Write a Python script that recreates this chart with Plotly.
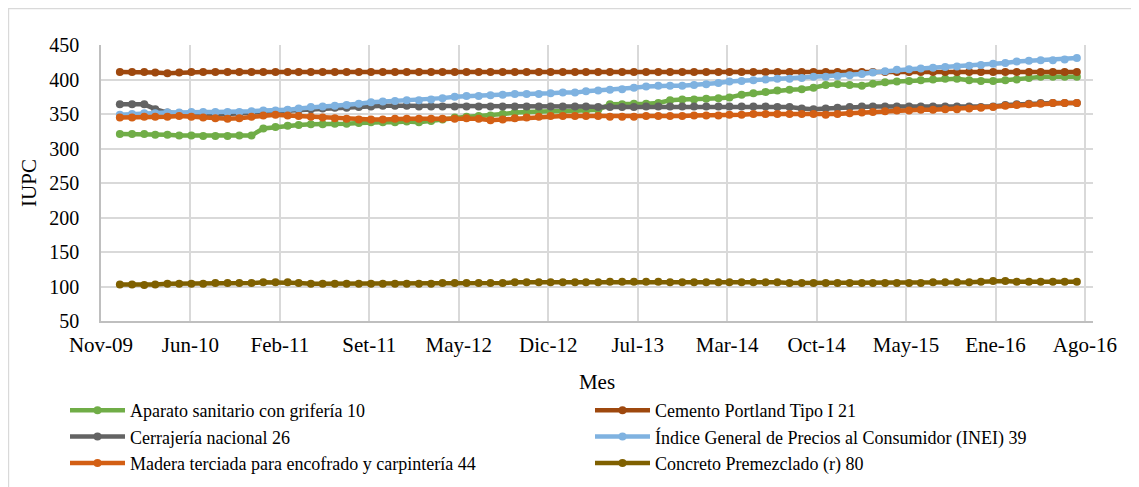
import pandas as pd
import plotly.graph_objects as go

months = pd.date_range("2009-12-01", periods=81, freq="MS")

tick_labels = ["Nov-09", "Jun-10", "Feb-11", "Set-11", "May-12", "Dic-12",
               "Jul-13", "Mar-14", "Oct-14", "May-15", "Ene-16", "Ago-16"]

aparato = [321, 321, 321, 320, 320, 319, 319, 318, 318, 318, 319, 319,
           329, 331, 333, 334, 335, 335, 336, 336, 337, 338, 338, 338,
           339, 338, 340, 342, 345, 346, 347, 348, 350, 352, 353, 354,
           354, 354, 355, 355, 356, 364, 364, 365, 365, 366, 370, 371,
           371, 372, 373, 374, 378, 380, 382, 384, 385, 386, 388, 392,
           393, 392, 391, 394, 396, 397, 398, 399, 400, 401, 401, 399,
           398, 398, 399, 400, 402, 404, 404, 404, 404]

cemento = [411, 411, 411, 410, 409, 410, 411, 411, 411, 411, 411, 411,
           411, 411, 411, 411, 411, 411, 411, 411, 411, 411, 411, 411,
           411, 411, 411, 411, 411, 411, 411, 411, 411, 411, 411, 411,
           411, 411, 411, 411, 411, 411, 411, 411, 411, 411, 411, 411,
           411, 411, 411, 411, 411, 411, 411, 411, 411, 411, 411, 411,
           411, 411, 411, 411, 411, 411, 411, 411, 411, 411, 411, 411,
           411, 411, 411, 411, 411, 411, 411, 411, 411]

cerrajeria = [364, 364, 364, 357, 352, 351, 350, 350, 349, 350, 351, 352,
              352, 353, 355, 356, 357, 358, 359, 359, 360, 361, 362, 362,
              362, 361, 361, 361, 361, 361, 361, 361, 361, 361, 361, 361,
              361, 361, 361, 361, 360, 360, 360, 360, 361, 361, 361, 361,
              361, 361, 361, 361, 361, 361, 361, 360, 360, 358, 357, 358,
              359, 360, 361, 361, 361, 361, 361, 361, 361, 361, 361, 361,
              360, 361, 363, 364, 365, 366, 366, 366, 366]

indice = [349, 350, 351, 351, 352, 352, 353, 353, 353, 353, 353, 354,
          355, 355, 356, 358, 360, 361, 362, 363, 365, 367, 368, 369,
          370, 370, 371, 373, 375, 376, 376, 377, 378, 379, 379, 379,
          380, 381, 381, 383, 384, 385, 386, 388, 390, 391, 391, 391,
          392, 393, 395, 397, 398, 399, 400, 401, 401, 402, 404, 404,
          405, 406, 408, 410, 412, 414, 415, 416, 417, 418, 419, 420,
          421, 423, 424, 426, 427, 428, 428, 429, 431]

madera = [345, 345, 346, 346, 346, 347, 346, 345, 344, 343, 344, 346,
          348, 349, 348, 347, 346, 345, 344, 343, 342, 342, 342, 343,
          343, 343, 343, 343, 343, 344, 343, 341, 342, 344, 345, 346,
          347, 347, 347, 347, 347, 346, 346, 346, 347, 347, 347, 347,
          348, 348, 348, 349, 349, 350, 350, 350, 350, 350, 350, 349,
          350, 351, 352, 353, 354, 355, 355, 356, 356, 357, 357, 358,
          359, 360, 362, 363, 364, 365, 366, 366, 366]

concreto = [103, 103, 102, 103, 104, 104, 104, 104, 105, 105, 105, 105,
            106, 106, 106, 105, 104, 104, 104, 104, 104, 104, 104, 104,
            104, 104, 104, 105, 105, 105, 105, 105, 105, 106, 106, 106,
            106, 106, 106, 106, 106, 107, 107, 107, 107, 107, 106, 106,
            106, 106, 106, 106, 106, 106, 106, 106, 105, 105, 105, 105,
            105, 105, 105, 105, 105, 105, 105, 105, 106, 106, 106, 106,
            107, 108, 108, 107, 107, 107, 107, 107, 107]

series = [
    ("Aparato sanitario con grifería 10", aparato, "#70AD47"),
    ("Cemento Portland Tipo I 21", cemento, "#9E480E"),
    ("Cerrajería nacional 26", cerrajeria, "#636363"),
    ("Índice General de Precios al Consumidor (INEI) 39", indice, "#7FB2E0"),
    ("Madera terciada para encofrado y carpintería 44", madera, "#D35F14"),
    ("Concreto Premezclado (r) 80", concreto, "#7F6000"),
]

FONT = "Liberation Serif, Times New Roman, serif"

fig = go.Figure()
for name, vals, col in series:
    fig.add_trace(go.Scatter(
        x=months, y=vals, name=name, mode="lines+markers",
        line=dict(color=col, width=4.5),
        marker=dict(color=col, size=8),
    ))

# x axis geometry (Excel date axis with evenly spaced major ticks)
axis_start = months[0] - pd.Timedelta(days=48)
step_days = 227.6
tickvals = [axis_start + pd.Timedelta(days=step_days * k) for k in range(len(tick_labels))]
axis_end = axis_start + pd.Timedelta(days=step_days * (992 / 89.45))

# page body adds an 8px offset; figure is sized so the whole page fits the window
W, H = 1131, 479
L, R, T, B = 93, 46, 37, 166
PW, PH = W - L - R, H - T - B

fig.update_layout(
    template="none",
    width=W, height=H,
    margin=dict(l=L, r=R, t=T, b=B, autoexpand=False),
    paper_bgcolor="white", plot_bgcolor="white",
    font=dict(family=FONT, size=20, color="#000000"),
    showlegend=True,
    legend=dict(
        orientation="h", x=(57 - L) / PW, y=-(384 - (T + PH)) / PH,
        xanchor="left", yanchor="top",
        entrywidthmode="pixels", entrywidth=455,
        font=dict(family=FONT, size=18, color="#000000"),
        tracegroupgap=0, itemwidth=55,
        bgcolor="rgba(0,0,0,0)", borderwidth=0,
    ),
    xaxis=dict(
        type="date", range=[axis_start, axis_end], automargin=False,
        tickmode="array", tickvals=tickvals, ticktext=tick_labels,
        showgrid=True, gridcolor="#D9D9D9", gridwidth=1.5,
        showline=True, linecolor="#BFBFBF", linewidth=1.5,
        ticks="", ticklabelstandoff=4,
        tickfont=dict(family=FONT, size=21),
        title=dict(text="Mes", font=dict(family=FONT, size=21), standoff=18),
        zeroline=False,
    ),
    yaxis=dict(
        range=[50, 450], automargin=False, tickmode="array",
        tickvals=[50, 100, 150, 200, 250, 300, 350, 400, 450],
        showgrid=True, gridcolor="#D9D9D9", gridwidth=1.5,
        showline=True, linecolor="#BFBFBF", linewidth=1.5,
        ticks="", ticklabelstandoff=16,
        tickfont=dict(family=FONT, size=20),
        title=dict(text="IUPC", font=dict(family=FONT, size=21), standoff=7),
        zeroline=False,
    ),
    shapes=[dict(
        type="rect", xref="paper", yref="paper",
        x0=(0.6 - L) / PW, x1=(W + 20 - L) / PW,
        y0=-(H + 20 - (T + PH)) / PH, y1=((T + PH) - 0.6) / PH,
        line=dict(color="#D9D9D9", width=1.2), layer="below",
    )],
)

fig.write_html("out.html")
